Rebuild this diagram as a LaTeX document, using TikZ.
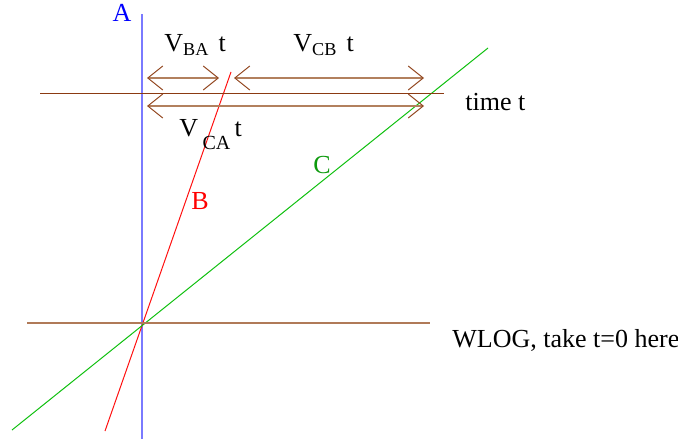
\documentclass[tikz,border=0pt]{standalone}
\usepackage{fontspec}
\setmainfont{Liberation Serif}
\usetikzlibrary{arrows.meta}
\definecolor{frameblue}{HTML}{7A7AFF}
\definecolor{linebrown}{HTML}{8B3A12}
\definecolor{zerobrown}{HTML}{B07A58}
\definecolor{gapbrown}{HTML}{B2805E}
\definecolor{worldred}{HTML}{FF1010}
\definecolor{worldgreen}{HTML}{10C010}
\tikzset{
  gap/.style={gapbrown,line width=1pt,
    {Straight Barb[length=7.5pt,width=12pt,line width=0.5pt,color=linebrown!80!gapbrown]}-{Straight Barb[length=7.5pt,width=12pt,line width=0.5pt,color=linebrown!80!gapbrown]}},
  lbl/.style={font=\fontsize{13}{15}\selectfont,inner sep=0pt}
}

\begin{document}
\begin{tikzpicture}[x=0.5pt,y=-0.5pt]
    \useasboundingbox (0,0) rectangle (678,439);
    % world lines
    \coordinate (Atop) at (142,14);   \coordinate (Abot) at (142,439);
    \coordinate (Btop) at (231,72);   \coordinate (Bbot) at (105,431);
    \coordinate (Ctop) at (488,48);   \coordinate (Cbot) at (12,430);
    \draw[frameblue,line width=1pt] (Atop)--(Abot);
    \draw[worldred,line width=0.5pt] (Btop)--(Bbot);
    \draw[worldgreen,line width=0.5pt] (Ctop)--(Cbot);
    \node[lbl,blue] (labA) at (122,13) {A};
    \node[lbl,red] (labB) at (200,201) {B};
    \node[lbl,worldgreen!80!black] (labC) at (322,165) {C};
    % time slices
    \coordinate (Tl) at (40,93);   \coordinate (Tr) at (444,93);
    \coordinate (Zl) at (27,323);  \coordinate (Zr) at (430,323);
    \draw[linebrown,line width=0.5pt] (Tl)--(Tr);
    \draw[zerobrown,line width=1pt] (Zl)--(Zr);
    \node[lbl,anchor=west] (labT) at (465,102) {time t};
    \node[lbl,anchor=west] (labZ) at (452,340) {WLOG, take t=0 here};
    % separations
    \coordinate (ba1) at (147,78);  \coordinate (ba2) at (219,78);
    \coordinate (cb1) at (234,78);  \coordinate (cb2) at (424,78);
    \coordinate (ca1) at (147,106); \coordinate (ca2) at (424,106);
    \draw[gap] (ba1)--(ba2);
    \draw[gap] (cb1)--(cb2);
    \draw[gap] (ca1)--(ca2);
    \node[lbl,anchor=west] (vba) at (164,45) {V\textsubscript{BA}\hspace{0.35em}t};
    \node[lbl,anchor=west] (vcb) at (293,45) {V\textsubscript{CB}\hspace{0.35em}t};
    \node[lbl,anchor=west] (vca) at (179,135) {V\,\raisebox{-1.1ex}{\fontsize{10}{11}\selectfont CA}\,t};
  \end{tikzpicture}
\end{document}
